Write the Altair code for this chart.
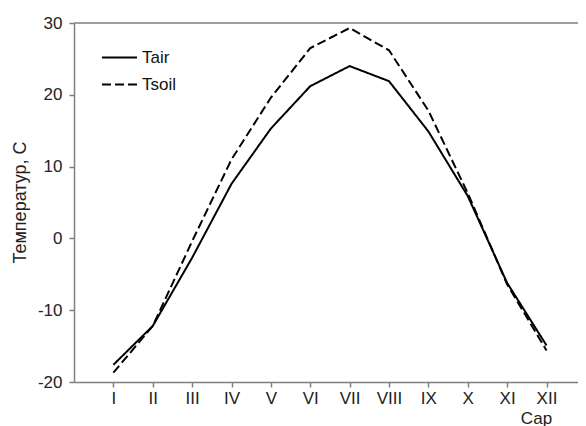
import altair as alt
import pandas as pd

months = list(range(1, 13))
roman = ["I", "II", "III", "IV", "V", "VI", "VII", "VIII", "IX", "X", "XI", "XII"]
tair = [-17.6, -12.2, -2.7, 7.6, 15.3, 21.2, 24.0, 21.9, 14.9, 5.9, -6.2, -14.9]
tsoil = [-18.7, -12.2, -0.4, 11.0, 19.6, 26.5, 29.3, 26.2, 17.8, 6.3, -6.4, -15.6]
series = ["Tair", "Tsoil"]
y_ticks = [-20, -10, 0, 10, 20, 30]

rows = []
for m, a, s in zip(months, tair, tsoil):
    rows.append({"month": m, "value": a, "series": series[0]})
    rows.append({"month": m, "value": s, "series": series[1]})
df = pd.DataFrame(rows)

label_expr = "[" + ",".join("'%s'" % r for r in roman) + "][datum.value - 1]"

FONT = "Liberation Sans"
GRAY = "#7f7f7f"

x = alt.X(
    "month:Q",
    scale=alt.Scale(domain=[0, 12.8], nice=False, zero=False),
    axis=alt.Axis(
        values=months,
        labelExpr=label_expr,
        title="Сар",
        titleX=462,
        titleY=41,
        titleAlign="center",
        titleBaseline="alphabetic",
        titleFontWeight="normal",
        titleFontSize=17,
        grid=False,
        tickSize=5,
        labelPadding=3,
        labelFlush=False,
    ),
)
y = alt.Y(
    "value:Q",
    scale=alt.Scale(domain=[-20, 30], nice=False),
    axis=alt.Axis(
        values=y_ticks,
        labelExpr="'' + datum.value",
        title="Температур, С",
        titleFontWeight="normal",
        titleFontSize=18,
        titleX=-49,
        titleY=179,
        titleAlign="center",
        titleBaseline="alphabetic",
        titleAngle=270,
        grid=False,
        tickSize=5,
        labelPadding=7,
    ),
)

lines = alt.Chart(df).mark_line(strokeWidth=2, color="black").encode(
    x=x,
    y=y,
    strokeDash=alt.StrokeDash(
        "series:N",
        scale=alt.Scale(domain=series, range=[[1, 0], [9, 4]]),
        legend=alt.Legend(
            title=None,
            orient="none",
            legendX=27,
            legendY=16,
            symbolType="stroke",
            symbolSize=1225,
            symbolStrokeWidth=2,
            symbolStrokeColor="black",
            labelFontSize=17,
            labelFont=FONT,
            labelColor="#111111",
            padding=0,
            labelOffset=4,
            rowPadding=-5,
        ),
    ),
)

top = alt.Chart(pd.DataFrame({"v": [30]})).mark_rule(color=GRAY, strokeWidth=1.5).encode(
    y=alt.Y("v:Q", scale=alt.Scale(domain=[-20, 30], nice=False))
)

chart = (
    alt.layer(lines, top)
    .properties(
        width=504,
        height=359,
        autosize=alt.AutoSizeParams(type="none"),
        padding={"left": 66, "top": 15, "right": 0, "bottom": 44},
    )
    .configure_view(stroke=None)
    .configure_axis(
        domainColor=GRAY,
        domainWidth=1.5,
        tickColor=GRAY,
        tickWidth=1.5,
        labelFont=FONT,
        titleFont=FONT,
        labelFontSize=17,
        labelColor="#222222",
        titleColor="#222222",
    )
)

chart.save("out.html", embed_options={"renderer": "svg", "actions": False})
